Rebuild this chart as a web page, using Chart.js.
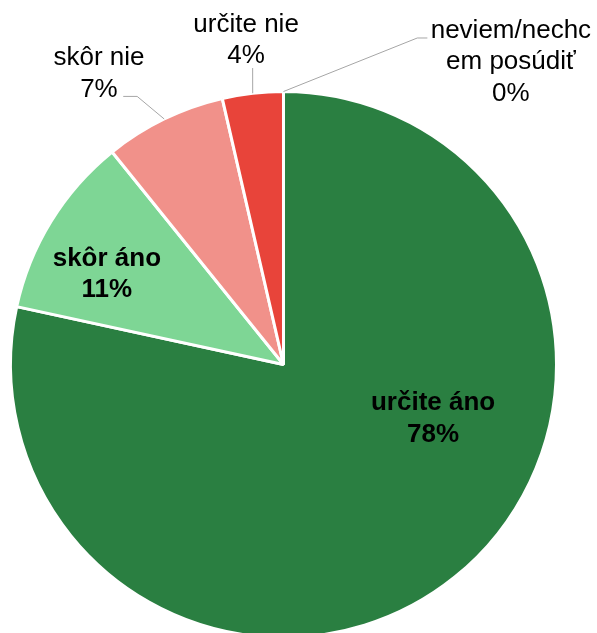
<!DOCTYPE html>
<html>
<head>
<meta charset="utf-8">
<script src="https://cdn.jsdelivr.net/npm/chart.js@4.4.1/dist/chart.umd.min.js"></script>
<style>
html,body{margin:0;padding:0;background:#fff;overflow:hidden;}
#wrap{position:relative;width:597px;height:680px;}
</style>
</head>
<body>
<div id="wrap"><canvas id="c" width="597" height="680"></canvas></div>
<script>
const categories = ["určite áno", "skôr áno", "skôr nie", "určite nie", "neviem/nechcem posúdiť"];
const values = [78.4, 10.8, 7.2, 3.6, 0];
const colors = ["#2A7F41", "#7ED695", "#F1918A", "#E8443A", "#A6A6A6"];
// label text lines (display wrapping as in the reference)
const labelLines = [["určite áno"], ["skôr áno"], ["skôr nie"], ["určite nie"], ["neviem/nechc", "em posúdiť"]];

// label placement (in units of pie radius, relative to pie centre) and style
const labelStyle = [
  {pos: [0.548, 0.167], bold: true, leader: null},
  {pos: [-0.647, -0.361], bold: true, leader: null},
  {pos: [-0.676, -1.097], bold: false, leader: [[-0.536, -0.982], [-0.587, -0.982]]},
  {pos: [-0.137, -1.218], bold: false, leader: [[-0.113, -1.086]]},
  {pos: [0.833, -1.196], bold: false, leader: [[0.490, -1.196], [0.527, -1.196]]}
];

const labelPlugin = {
  id: 'pieLabels',
  afterDatasetsDraw(chart) {
    const ctx = chart.ctx;
    const meta = chart.getDatasetMeta(0);
    const total = values.reduce((a, b) => a + b, 0);
    meta.data.forEach((arc, i) => {
      const {x, y, outerRadius: r, startAngle, endAngle} = arc.getProps(['x','y','outerRadius','startAngle','endAngle'], true);
      const st = labelStyle[i];
      const lx = x + st.pos[0] * r, ly = y + st.pos[1] * r;
      const pct = Math.round(values[i] / total * 100) + '%';
      const lines = labelLines[i].concat([pct]);
      ctx.save();
      if (st.leader) {
        const mid = (startAngle + endAngle) / 2;
        ctx.beginPath();
        ctx.moveTo(x + Math.cos(mid) * r, y + Math.sin(mid) * r);
        st.leader.forEach(p => ctx.lineTo(x + p[0] * r, y + p[1] * r));
        ctx.strokeStyle = '#A6A6A6';
        ctx.lineWidth = 1;
        ctx.stroke();
      }
      ctx.fillStyle = '#000';
      ctx.font = (st.bold ? 'bold ' : '') + '26px "Liberation Sans", Arial, sans-serif';
      ctx.textAlign = 'center';
      ctx.textBaseline = 'alphabetic';
      lines.forEach((t, k) => ctx.fillText(t, lx, ly + k * 31.5));
      ctx.restore();
    });
  }
};

new Chart(document.getElementById('c'), {
  type: 'pie',
  data: {
    labels: categories,
    datasets: [{
      data: values,
      backgroundColor: colors,
      borderColor: '#FFFFFF',
      borderWidth: 3
    }]
  },
  options: {
    responsive: false,
    animation: false,
    layout: {padding: {top: 90, left: 9, right: 39, bottom: 41}},
    plugins: {legend: {display: false}, tooltip: {enabled: false}},
    events: []
  },
  plugins: [labelPlugin]
});
</script>
</body>
</html>
